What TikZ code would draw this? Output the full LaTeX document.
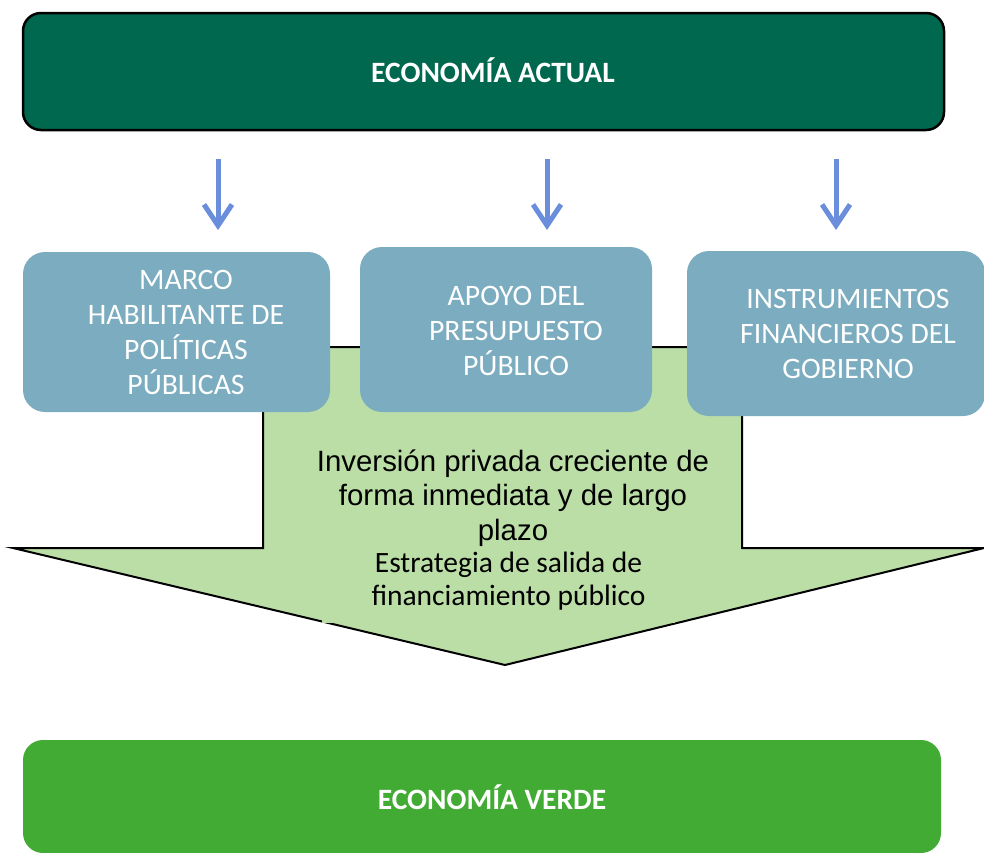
\documentclass[tikz,border=0pt]{standalone}
\usepackage{fontspec}
\setmainfont{Carlito}
\newfontfamily\arial{Liberation Sans}
\usepackage{tikz}
\usetikzlibrary{positioning}
\usetikzlibrary{arrows.meta}
\definecolor{verdeoscuro}{RGB}{0,104,78}
\definecolor{azulgris}{RGB}{123,172,191}
\definecolor{verdeclaro}{RGB}{187,222,167}
\definecolor{verdevivo}{RGB}{66,171,52}
\definecolor{azulflecha}{RGB}{106,142,220}
\tikzset{>=latex}

\begin{document}
\begin{tikzpicture}[x=1pt,y=-1pt,
  caja/.style={fill=azulgris,rounded corners=22pt,inner sep=0pt},
  textocaja/.style={text=white,align=center,inner sep=0pt,font=\fontsize{29.7}{35}\selectfont},
  titulo/.style={text=white,inner sep=0pt,anchor=base,font=\bfseries\fontsize{29.5}{34}\selectfont},
  flecha/.style={azulflecha,line width=5pt,-{Straight Barb[length=21pt,width=28pt]}}]

\useasboundingbox (0,0) rectangle (984,852);

% Big arrow
\draw[line width=2pt,fill=verdeclaro] (263,347) -- (742,347) -- (742,548) -- (984,548)
  -- (505,665) -- (13,548) -- (263,548) -- cycle;
\fill[verdeclaro] (322,440) rectangle (675,623);

% Current economy
\node[fill=verdeoscuro,draw=black,line width=2.5pt,rounded corners=18pt,
  minimum width=921pt,minimum height=117pt] (actual) at (483.5,71.5) {};
\node[titulo] (actualT) at (493,82) {ECONOMÍA ACTUAL};

% Arrows
\foreach \x/\n in {218/a,547/b,836/c}{
  \coordinate (ini\n) at (\x,159);
  \coordinate (fin\n) at (\x,230);
  \draw[flecha] (ini\n) -- (fin\n);
}

% Boxes
\node[caja,minimum width=307pt,minimum height=160pt] (marco) at (176.5,332) {};
\node[textocaja] (marcoT) at (186,332.5) {MARCO\\HABILITANTE DE\\POLÍTICAS\\PÚBLICAS};

\node[caja,minimum width=292pt,minimum height=165pt] (apoyo) at (506,329.5) {};
\node[textocaja] (apoyoT) at (516,331) {APOYO DEL\\PRESUPUESTO\\PÚBLICO};

\node[caja,minimum width=298pt,minimum height=165pt] (instr) at (836,333.5) {};
\node[textocaja] (instrT) at (848,333.5) {INSTRUMIENTOS\\FINANCIEROS DEL\\GOBIERNO};

% Text in the arrow
\node[align=center,inner sep=0pt,font=\arial\fontsize{29.4}{34.5}\selectfont] (inversion)
  at (513,498) {Inversión privada creciente de\\forma inmediata y de largo\\plazo};
\node[align=center,inner sep=0pt,font=\fontsize{29.5}{33}\selectfont] (estrategia)
  at (508.5,581.5) {Estrategia de salida de\\financiamiento público};

% Green economy
\node[fill=verdevivo,rounded corners=20pt,minimum width=918pt,minimum height=113pt]
  (verde) at (482,796.5) {};
\node[titulo] (verdeT) at (492,809.5) {ECONOMÍA VERDE};

\end{tikzpicture}
\end{document}
